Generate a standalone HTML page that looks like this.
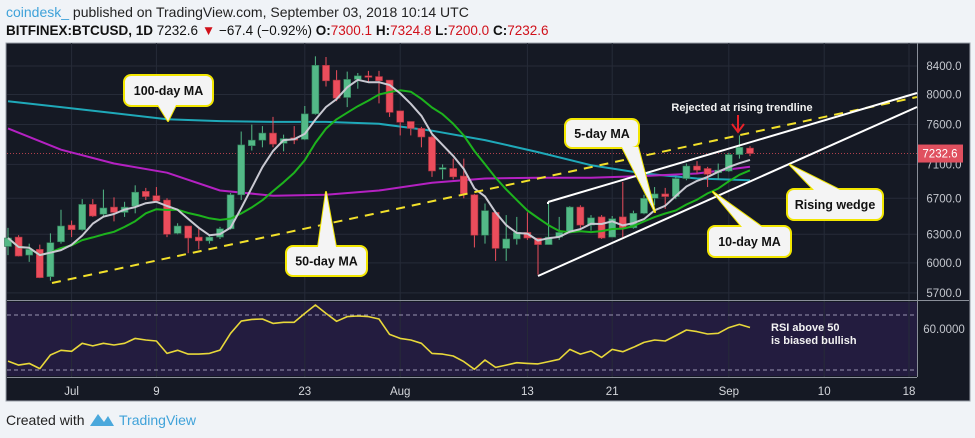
<!DOCTYPE html>
<html><head><meta charset="utf-8"><style>
html,body{margin:0;padding:0;background:#f0f3f7;width:975px;height:438px;overflow:hidden;font-family:"Liberation Sans",sans-serif}
svg{display:block}
</style></head><body>
<svg id="chart" width="975" height="438" viewBox="0 0 975 438" xmlns="http://www.w3.org/2000/svg" font-family="Liberation Sans, sans-serif">
<rect x="0" y="0" width="975" height="438" fill="#f0f3f7"/>
<text x="6" y="17" font-size="14" fill="#222"><tspan fill="#3fa2d9">coindesk_</tspan> published on TradingView.com, September 03, 2018 10:14 UTC</text>
<text x="6" y="35" font-size="13.5" fill="#111"><tspan font-weight="bold">BITFINEX:BTCUSD, 1D</tspan> 7232.6 <tspan fill="#d0101a">▼</tspan> −67.4 (−0.92%) <tspan font-weight="bold">O:</tspan><tspan fill="#d0101a">7300.1</tspan> <tspan font-weight="bold">H:</tspan><tspan fill="#d0101a">7324.8</tspan> <tspan font-weight="bold">L:</tspan><tspan fill="#d0101a">7200.0</tspan> <tspan font-weight="bold">C:</tspan><tspan fill="#d0101a">7232.6</tspan></text>
<rect x="6" y="43" width="964" height="358" fill="#151924" stroke="#9aa0aa" stroke-width="1"/>
<rect x="7" y="302" width="910" height="74" fill="#231c3f"/>
<g id="grid"></g>
<line x1="7" y1="300.5" x2="969" y2="300.5" stroke="#8a8f99" stroke-width="1"/>
<line x1="917.5" y1="43" x2="917.5" y2="377" stroke="#8a8f99" stroke-width="1"/>
<line x1="7" y1="377.5" x2="917" y2="377.5" stroke="#8a8f99" stroke-width="1"/>
<line x1="7" y1="315" x2="917" y2="315" stroke="#9a93b0" stroke-dasharray="4,3"/>
<line x1="7" y1="370" x2="917" y2="370" stroke="#9a93b0" stroke-dasharray="4,3"/>
<g id="marks"></g>
<g id="annot"></g>
<text x="6" y="425" font-size="14" fill="#222">Created with</text>
<g><path d="M90 426 L98 414 L104 422 L108 416 L114 426 Z" fill="#4aa8dc"/><text x="119" y="425" font-size="14" fill="#3fa2d9">TradingView</text></g>
</svg>
<script>
const opens=[6170,6270,6080,6140,5860,6220,6400,6350,6630,6520,6600,6540,6610,6780,6730,6680,6310,6390,6270,6230,6270,6360,6740,7330,7400,7490,7360,7430,7410,7740,8410,8200,7960,8210,8260,8250,8200,7780,7640,7550,7440,7040,7050,6960,6740,6290,6540,6150,6250,6320,6260,6190,6270,6320,6600,6400,6490,6270,6490,6370,6530,6700,6750,6720,6930,7080,7050,7000,7020,7220,7300.1];
const highs=[6370,6290,6200,6190,6310,6570,6450,6690,6690,6800,6710,6660,6850,6820,6830,6700,6420,6390,6360,6290,6380,6760,7510,7600,7580,7700,7470,7580,7845,8540,8530,8340,8320,8300,8330,8330,8200,7780,7640,7570,7460,7100,7170,7170,6750,6640,6540,6510,6490,6540,6260,6660,6490,6610,6620,6510,6510,6500,6890,6560,6740,6830,6820,6950,7110,7140,7070,7110,7240,7460,7324.8];
const lows=[6080,6065,6010,5845,5820,6200,6270,6340,6490,6490,6440,6490,6530,6680,6650,6270,6300,6100,6140,6200,6250,6350,6680,7270,7310,7310,7260,7350,7400,7730,8110,7910,7830,8080,8180,7880,7700,7460,7460,7310,6950,6920,6920,6700,6160,6200,6020,6020,6190,6240,5880,6190,6240,6310,6370,6340,6250,6270,6270,6360,6520,6620,6580,6690,6910,6990,6830,6920,7010,7170,7200];
const closes=[6260,6070,6140,5850,6210,6390,6350,6630,6500,6590,6540,6600,6770,6720,6670,6300,6390,6260,6230,6270,6360,6740,7340,7400,7490,7350,7420,7400,7740,8410,8190,7950,8210,8260,8240,8190,7760,7630,7550,7440,7020,7060,6950,6750,6290,6560,6150,6250,6320,6260,6190,6270,6320,6600,6400,6480,6260,6470,6370,6530,6700,6750,6720,6930,7080,7030,6980,7030,7220,7310,7232.6];
const ma50Idx=[0,5,10,15,20,25,30,35,40,45,50,55,60,65,70];
const ma50=[7550,7280,7110,7000,6790,6730,6740,6790,6880,6930,6940,6940,6960,6990,7070];
const ma100=[7910,7830,7750,7670,7645,7635,7635,7610,7520,7400,7250,7090,6990,6930,6910];
const rsi=[36.5,33.6,34.8,31.0,40.9,44.3,43.6,49.4,47.5,49.4,48.2,49.4,53.0,51.8,51.1,42.1,44.3,41.6,41.6,42.1,44.5,56.7,65.6,66.8,67.1,63.9,64.7,64.7,71.2,77.3,71.2,65.4,68.8,69.3,68.8,67.1,55.9,53.0,51.8,49.4,42.1,41.6,40.2,36.1,30.5,37.3,31.9,33.6,35.3,34.8,34.4,36.1,37.8,45.0,41.6,43.8,39.2,45.0,43.3,46.5,50.1,51.8,51.1,55.0,59.1,57.9,56.2,56.7,60.8,63.2,60.9];
const priceTicks=[8400,8000,7600,7100,6700,6300,6000,5700];
const dateTickIdx=[6,14,28,37,49,57,68,77,85];
const dateTickLabels=["Jul","9","23","Aug","13","21","Sep","10","18"];
const lastPrice=7232.6;

const NS="http://www.w3.org/2000/svg";
const xS=i=>8+10.6*i;
const yS=p=>66+585*Math.log(8400/p);
const rY=r=>315+(70-r)*1.375;
function mk(tag,attrs,parent){const e=document.createElementNS(NS,tag);for(const k in attrs)e.setAttribute(k,attrs[k]);parent.appendChild(e);return e;}
const grid=document.getElementById('grid'),marks=document.getElementById('marks'),annot=document.getElementById('annot');

priceTicks.forEach(p=>{
  const y=yS(p);
  const gl=mk('line',{x1:7,x2:917,y1:y,y2:y,stroke:'#262b38','stroke-width':1},grid);
  
  
  const t=mk('text',{x:944,y:y+4,'font-size':11.5,fill:'#c4c7ce','text-anchor':'middle'},marks);
  t.textContent=p.toFixed(1);
  
  
});
const rl=mk('text',{x:944,y:rY(60)+4,'font-size':11.5,fill:'#c4c7ce','text-anchor':'middle'},marks);
rl.textContent='60.0000';


dateTickIdx.forEach((d,k)=>{
  const x=xS(d);
  const gl=mk('line',{x1:x,x2:x,y1:43,y2:377,stroke:'#262b38','stroke-width':1},grid);
  
  
  const t=mk('text',{x:x,y:395,'font-size':11.5,fill:'#d5d7dc','text-anchor':'middle'},marks);
  t.textContent=dateTickLabels[k];
  
  
});
// last price line
const lp=mk('line',{x1:7,x2:917,y1:yS(lastPrice),y2:yS(lastPrice),stroke:'#b0404c','stroke-dasharray':'1,2'},marks);


const lpb=mk('rect',{x:918,y:yS(lastPrice)-9,width:45,height:18,fill:'#e0505f'},marks);


const lpt=mk('text',{x:940,y:yS(lastPrice)+4,'font-size':11.5,fill:'#fff','text-anchor':'middle'},marks);
lpt.textContent=lastPrice.toFixed(1);



function poly(pts,color,w,name){
  const p=mk('polyline',{points:pts.map(q=>q[0].toFixed(1)+','+q[1].toFixed(1)).join(' '),fill:'none',stroke:color,'stroke-width':w,'stroke-linejoin':'round'},marks);
  
  
}
poly(ma100.map((v,k)=>[xS(ma50Idx[k]),yS(v)]),'#1fa9b9',2,'ma100-line');
poly(ma50.map((v,k)=>[xS(ma50Idx[k]),yS(v)]),'#b421c2',2,'ma50-line');

// candles
for(let i=0;i<closes.length;i++){
  const up=closes[i]>=opens[i];
  const c=up?'#53b987':'#eb4d5c';
  const x=xS(i);
  const w=mk('line',{x1:x,x2:x,y1:yS(highs[i]),y2:yS(lows[i]),stroke:c,'stroke-width':1},marks);
  
  
  const top=yS(Math.max(opens[i],closes[i])),bot=yS(Math.min(opens[i],closes[i]));
  const b=mk('rect',{x:x-3.5,y:top,width:7,height:Math.max(1.5,bot-top),fill:c,stroke:up?'#2e7a55':'#a8323e','stroke-width':0.6},marks);
  
  
}
function sma(n){return closes.map((_,i)=>{const s=closes.slice(Math.max(0,i-n+1),i+1);return s.reduce((a,b)=>a+b,0)/s.length;});}
poly(sma(10).map((v,i)=>[xS(i),yS(v)]),'#1db31d',2,'ma10-line');
poly(sma(5).map((v,i)=>[xS(i),yS(v)]),'#c9c9d2',2,'ma5-line');
poly(rsi.map((v,i)=>[xS(i),rY(v)]),'#e8d83a',1.6,'rsi-line');

// trendlines
function ln(x1,y1,x2,y2,col,w,dash,name){const l=mk('line',{x1,y1,x2,y2,stroke:col,'stroke-width':w},annot);if(dash)l.setAttribute('stroke-dasharray',dash);}
ln(52,283,917,97,'#f2e02a',2,'9,7','support-trendline-dashed');
ln(548,202,917,93,'#ffffff',2,null,'wedge-upper-line');
ln(548,202,548,204,'#ffffff',2,null,'wedge-upper-tick');
ln(538,276,917,107,'#ffffff',2,null,'wedge-lower-line');
// callouts
function callout(name,x,y,w,h,label,tri){
  const g=mk('g',{},annot);
  
  
  mk('polygon',{points:tri,fill:'#f4f4f4',stroke:'#f2e600','stroke-width':2,'stroke-linejoin':'round'},g);
  mk('rect',{x,y,width:w,height:h,rx:7,fill:'#f4f4f4',stroke:'#f2e600','stroke-width':2},g);
  mk('polygon',{points:tri,fill:'#f4f4f4',stroke:'none'},g);
  const t=mk('text',{x:x+w/2,y:y+h/2+4.5,'font-size':12.5,'font-weight':'bold',fill:'#111','text-anchor':'middle'},g);
  t.textContent=label;
}
callout('callout-100-day-ma',124,75,89,31,'100-day MA','158,105 168,121 176,105');
callout('callout-50-day-ma',286,246,81,30,'50-day MA','318,247 326,192 336,247');
callout('callout-5-day-ma',565,119,74,29,'5-day MA','622,147 655,212 638,147');
callout('callout-10-day-ma',708,226,83,31,'10-day MA','742,227 713,192 762,227');
callout('callout-rising-wedge',787,189,96,31,'Rising wedge','814,190 790,165 840,190');
const rj=mk('text',{x:742,y:111,'font-size':11,'font-weight':'bold',fill:'#f2f2f2','text-anchor':'middle'},annot);
rj.textContent='Rejected at rising trendline';


const ar=mk('path',{d:'M738 115 L738 132 M732 124 L738 132 L744 124',stroke:'#e8222a','stroke-width':2,fill:'none'},annot);


const r1=mk('text',{x:771,y:331,'font-size':11,'font-weight':'bold',fill:'#f2f2f2'},annot);
r1.textContent='RSI above 50';


const r2=mk('text',{x:771,y:344,'font-size':11,'font-weight':'bold',fill:'#f2f2f2'},annot);
r2.textContent='is biased bullish';


</script>
</body></html>
